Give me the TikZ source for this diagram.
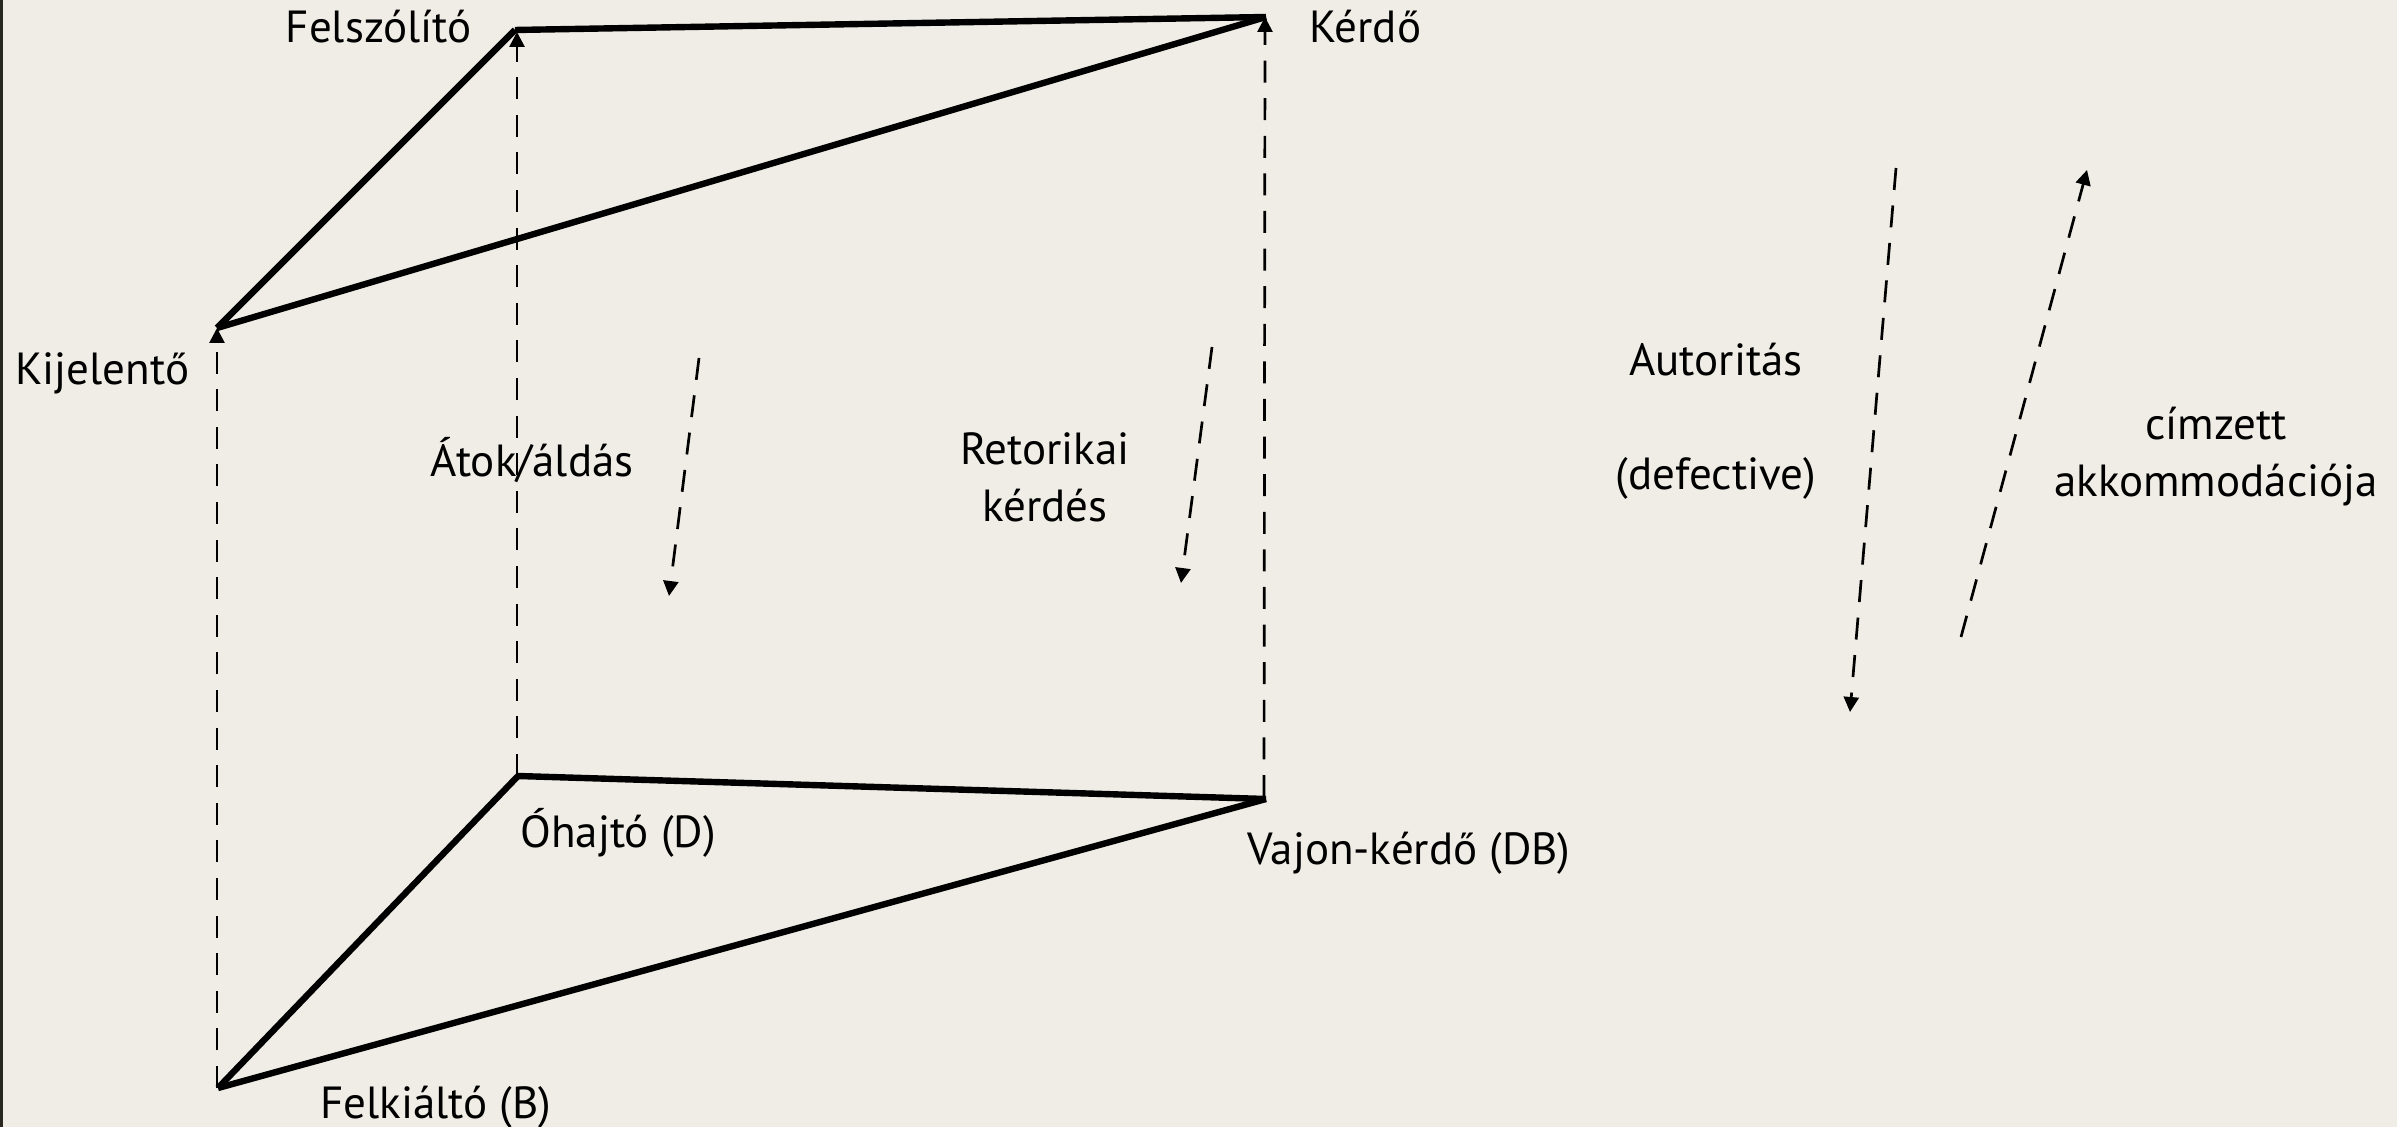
\documentclass[tikz,border=0pt]{standalone}
\usepackage{fontspec}
\setmainfont{PT Sans}
\usetikzlibrary{arrows.meta}
\definecolor{bg}{RGB}{239,237,229}
\definecolor{edgecol}{RGB}{40,40,32}
\begin{document}
\begin{tikzpicture}[x=0.5pt,y=-0.5pt,
  thickedge/.style={line width=3.2pt},
  dashline/.style={line width=1.35pt, dash pattern=on 11pt off 7.8pt},
  dasharrow/.style={dashline, -{Triangle[length=7.5pt,width=7.5pt]}},
  lbl/.style={font=\fontsize{22.5pt}{28.5pt}\selectfont, inner sep=0pt, text=black}]
\fill[bg] (0,0) rectangle (2397,1127);
\useasboundingbox (0,0) rectangle (2397,1127);
\fill[edgecol] (0,0) rectangle (3,1127);
% vertices
\coordinate (F) at (515,30);
\coordinate (K) at (1266,17);
\coordinate (J) at (217,328);
\coordinate (O) at (518,776);
\coordinate (V) at (1266,799);
\coordinate (B) at (218,1088);
% vertical dashed arrows
\coordinate (Fd) at (517,32);
\coordinate (Od) at (517,776);
\coordinate (Kd) at (1265,17);
\coordinate (Vd) at (1264,797);
\coordinate (Jd) at (217,328);
\coordinate (Bd) at (217,1088);
\draw[dasharrow] (Bd) -- (Jd);
\draw[dasharrow] (Od) -- (Fd);
\draw[dasharrow] (Vd) -- (Kd);
% thick triangles
\draw[thickedge] (F) -- (K);
\draw[thickedge] (K) -- (J);
\draw[thickedge] (J) -- (F);
\draw[thickedge] (O) -- (V);
\draw[thickedge] (V) -- (B);
\draw[thickedge] (B) -- (O);
% small dashed arrows
\coordinate (a1s) at (699,358);
\coordinate (a1e) at (669,596);
\coordinate (a2s) at (1212,347);
\coordinate (a2e) at (1181,583);
\coordinate (a3s) at (1896,168);
\coordinate (a3e) at (1850,712);
\coordinate (a4s) at (1961,637);
\coordinate (a4e) at (2087,170);
\draw[dasharrow] (a1s) -- (a1e);
\draw[dasharrow] (a2s) -- (a2e);
\draw[dasharrow] (a3s) -- (a3e);
\draw[dasharrow] (a4s) -- (a4e);
% labels
\node[lbl, anchor=base east] (tF) at (472,43) {Felszólító};
\node[lbl, anchor=base west] (tK) at (1309,43) {Kérdő};
\node[lbl, anchor=base west] (tJ) at (15,385) {Kijelentő};
\node[lbl, anchor=base] (tA) at (532,477) {Átok/áldás};
\node[lbl, anchor=base, align=center] (tR) at (1045,522) {Retorikai\\kérdés};
\node[lbl, anchor=base west] (tO) at (520,847) {Óhajtó (D)};
\node[lbl, anchor=base west] (tV) at (1247,864) {Vajon-kérdő (DB)};
\node[lbl, anchor=base west] (tB) at (320,1118) {Felkiáltó (B)};
\node[lbl, anchor=base, align=center] (tAu) at (1716,490) {Autoritás\\[28.5pt](defective)};
\node[lbl, anchor=base, align=center] (tC) at (2216,497) {címzett\\akkommodációja};
\end{tikzpicture}
\end{document}
